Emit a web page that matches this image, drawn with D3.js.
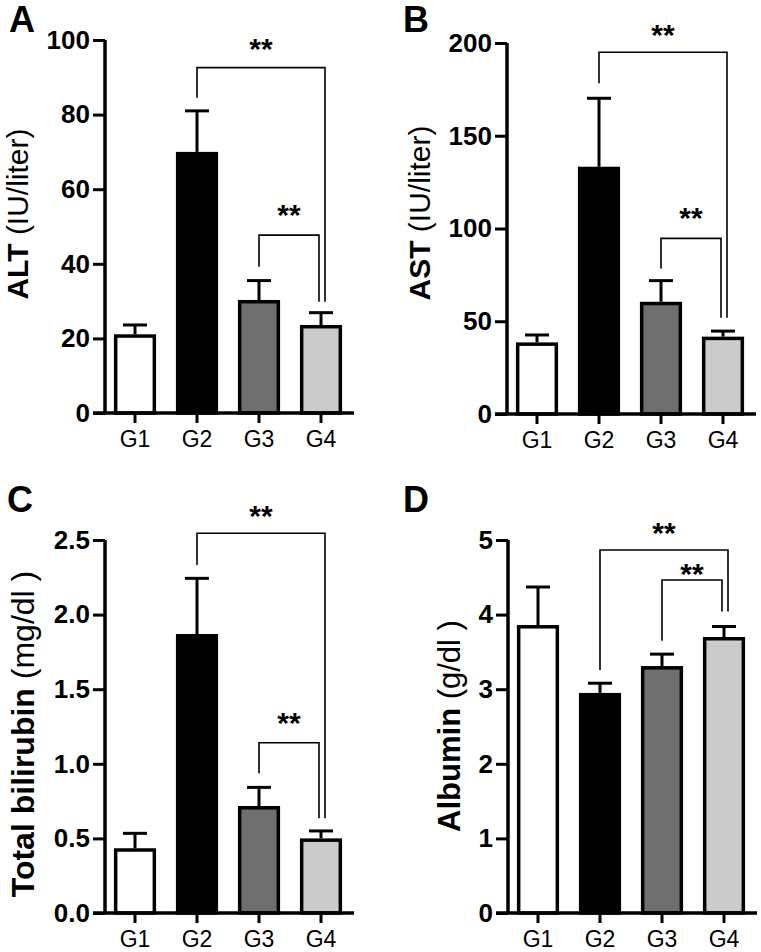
<!DOCTYPE html>
<html>
<head>
<meta charset="utf-8">
<script src="https://cdn.jsdelivr.net/npm/d3@7"></script>
<style>
  html, body { margin: 0; padding: 0; background: #fff; }
  svg { display: block; font-family: "Liberation Sans", Arial, Helvetica, sans-serif; }
</style>
</head>
<body>
<svg id="chart" width="761" height="952"></svg>
<script>
// ---------------- data ----------------
const categories = ["G1", "G2", "G3", "G4"];
const barColors = ["#ffffff", "#000000", "#6e6e6e", "#cbcbcb"];

const altMean = [21.1, 70.0, 30.3, 23.6];
const altSem  = [2.5, 11.0, 5.2, 3.3];
const altTicks = [0, 20, 40, 60, 80, 100];

const astMean = [38.6, 133.3, 60.5, 41.7];
const astSem  = [4.0, 36.9, 11.4, 3.0];
const astTicks = [0, 50, 100, 150, 200];

const bilMean = [0.434, 1.87, 0.717, 0.50];
const bilSem  = [0.10, 0.373, 0.125, 0.05];
const bilTicks = [0, 0.5, 1.0, 1.5, 2.0, 2.5];

const albMean = [3.86, 2.95, 3.31, 3.70];
const albSem  = [0.51, 0.13, 0.16, 0.14];
const albTicks = [0, 1, 2, 3, 4, 5];

// significance brackets (levels in data units)
const altBrackets = [
  { from: "G2", to: "G4", level: 92.6, fromEnd: 84.5, toEnd: 29.8, star: 95.0, outer: true },
  { from: "G3", to: "G4", level: 47.7, fromEnd: 39.2, toEnd: 29.8, star: 50.3, outer: false }
];
const astBrackets = [
  { from: "G2", to: "G4", level: 195.0, fromEnd: 178.3, toEnd: 51.9, star: 198.7, outer: true },
  { from: "G3", to: "G4", level: 94.7, fromEnd: 78.5, toEnd: 51.9, star: 100.3, outer: false }
];
const bilBrackets = [
  { from: "G2", to: "G4", level: 2.545, fromEnd: 2.332, toEnd: 0.635, star: 2.597, outer: true },
  { from: "G3", to: "G4", level: 1.141, fromEnd: 0.936, toEnd: 0.635, star: 1.206, outer: false }
];
const albBrackets = [
  { from: "G2", to: "G4", level: 4.866, fromEnd: 3.257, toEnd: 4.04, star: 4.96, outer: true },
  { from: "G3", to: "G4", level: 4.464, fromEnd: 3.65, toEnd: 4.04, star: 4.41, outer: false }
];

// ---------------- layout ----------------
const panels = [
  { letter: "A", mean: altMean, sem: altSem, ticks: altTicks, fmt: d3.format("d"), brackets: altBrackets,
    titleBold: "ALT", titleRest: " (IU/liter)", titleSize: 30,
    axisX: 105, y0: 413, yTop: 40, labelX: 9, labelY: 32, titleX: 28, titleY: 214 },
  { letter: "B", mean: astMean, sem: astSem, ticks: astTicks, fmt: d3.format("d"), brackets: astBrackets,
    titleBold: "AST", titleRest: " (IU/liter)", titleSize: 30,
    axisX: 507, y0: 414, yTop: 43, labelX: 403, labelY: 32, titleX: 430, titleY: 213 },
  { letter: "C", mean: bilMean, sem: bilSem, ticks: bilTicks, fmt: d3.format(".1f"), brackets: bilBrackets,
    titleBold: "Total bilirubin", titleRest: " (mg/dl )", titleSize: 32,
    axisX: 105, y0: 913, yTop: 540, labelX: 7, labelY: 512, titleX: 34, titleY: 734 },
  { letter: "D", mean: albMean, sem: albSem, ticks: albTicks, fmt: d3.format("d"), brackets: albBrackets,
    titleBold: "Albumin", titleRest: " (g/dl )", titleSize: 31,
    axisX: 508, y0: 913, yTop: 540, labelX: 403, labelY: 512, titleX: 460, titleY: 726 }
];

const svg = d3.select("#chart");
const AXW = 3.5;   // axis stroke
const BW = 3.5;    // bar stroke

panels.forEach(p => {
  const g = svg.append("g");
  const yMax = p.ticks[p.ticks.length - 1];
  const y = d3.scaleLinear().domain([0, yMax]).range([p.y0, p.yTop]);
  const x = d3.scaleBand().domain(categories)
    .range([p.axisX - 1, p.axisX + 247]).paddingInner(0.32).paddingOuter(0.16);
  const cx = c => x(c) + x.bandwidth() / 2;

  // panel letter
  g.append("text").attr("x", p.labelX).attr("y", p.labelY)
    .attr("font-size", 36).attr("font-weight", "bold").text(p.letter);

  // bars
  categories.forEach((c, i) => {
    g.append("rect")
      .attr("x", x(c) + BW / 2)
      .attr("y", y(p.mean[i]) + BW / 2)
      .attr("width", x.bandwidth() - BW)
      .attr("height", Math.max(0, y(0) - y(p.mean[i]) - BW / 2))
      .attr("fill", barColors[i]).attr("stroke", "#000").attr("stroke-width", BW);
    // error bar (upper only)
    const top = y(p.mean[i] + p.sem[i]);
    g.append("line").attr("x1", cx(c)).attr("x2", cx(c))
      .attr("y1", y(p.mean[i])).attr("y2", top)
      .attr("stroke", "#000").attr("stroke-width", 3);
    g.append("line").attr("x1", cx(c) - 12).attr("x2", cx(c) + 12)
      .attr("y1", top).attr("y2", top)
      .attr("stroke", "#000").attr("stroke-width", 3);
  });

  // y axis
  const yAxis = d3.axisLeft(y).tickValues(p.ticks).tickFormat(p.fmt).tickSize(12).tickPadding(3);
  const ya = g.append("g").attr("transform", `translate(${p.axisX},0)`).call(yAxis);
  ya.select(".domain").attr("d", `M0,${p.yTop}V${p.y0}`).attr("stroke-width", AXW).attr("stroke", "#000");
  ya.selectAll(".tick line").attr("stroke-width", 3).attr("stroke", "#000");
  ya.selectAll(".tick text").attr("font-size", 26).attr("font-weight", "bold")
    .attr("font-family", "Liberation Sans, Arial, sans-serif").attr("fill", "#000");

  // x axis
  const xAxis = d3.axisBottom(x).tickSize(10).tickPadding(8);
  const xa = g.append("g").attr("transform", `translate(0,${p.y0})`).call(xAxis);
  xa.select(".domain").attr("d", `M${p.axisX - 12},0H${p.axisX + 249}`)
    .attr("stroke-width", AXW).attr("stroke", "#000");
  xa.selectAll(".tick line").attr("stroke-width", 3).attr("stroke", "#000");
  xa.selectAll(".tick text").attr("font-size", 23).attr("font-weight", "normal")
    .attr("font-family", "Liberation Sans, Arial, sans-serif").attr("fill", "#000");

  // y title
  const t = g.append("text")
    .attr("transform", `translate(${p.titleX},${p.titleY}) rotate(-90)`)
    .attr("text-anchor", "middle").attr("font-size", p.titleSize);
  t.append("tspan").attr("font-weight", "bold").text(p.titleBold);
  t.append("tspan").attr("font-weight", "normal").text(p.titleRest);

  // significance brackets
  p.brackets.forEach(b => {
    const x1 = cx(b.from);
    const x2 = cx(b.to) + (b.outer ? 4 : -2);
    const path = d3.path();
    path.moveTo(x1, y(b.fromEnd));
    path.lineTo(x1, y(b.level));
    path.lineTo(x2, y(b.level));
    path.lineTo(x2, y(b.toEnd));
    g.append("path").attr("d", path.toString())
      .attr("fill", "none").attr("stroke", "#000").attr("stroke-width", 1.6);
    g.append("text").attr("x", (x1 + x2) / 2).attr("y", y(b.star))
      .attr("text-anchor", "middle").attr("font-size", 30).attr("font-weight", "bold")
      .text("**");
  });
});
</script>
</body>
</html>
